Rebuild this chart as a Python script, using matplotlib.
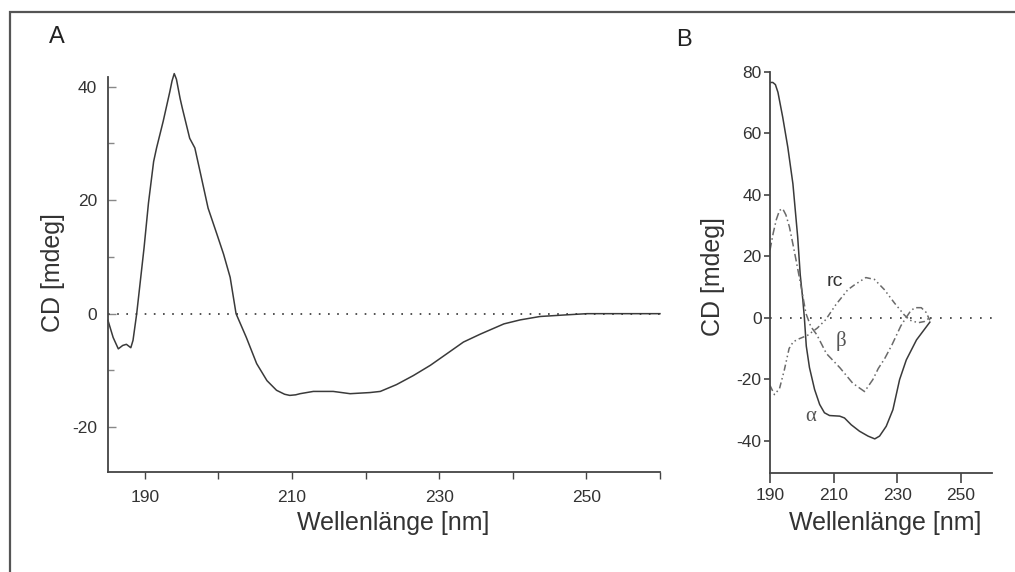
import numpy as np
import matplotlib
matplotlib.use('Agg')
import matplotlib.pyplot as plt
from matplotlib.patches import Rectangle

plt.rcParams['font.family'] = ['Liberation Sans', 'DejaVu Sans']
plt.rcParams['axes.unicode_minus'] = False

# Panel A: CD spectrum of the sample
wl_a = [185.0, 185.7, 186.4, 187.0, 187.5, 188.1, 188.4, 188.9, 189.9, 190.5,
        191.2, 191.6, 192.5, 193.4, 193.7, 194.0, 194.3, 194.8, 195.1, 196.1,
        196.8, 197.5, 198.6, 199.8, 200.7, 201.6, 202.4, 203.8, 205.2, 206.6,
        207.9, 209.0, 209.7, 210.5, 211.1, 212.9, 215.6, 217.9, 220.6, 222.0,
        224.2, 226.5, 228.8, 231.0, 233.3, 235.6, 238.8, 241.0, 243.7, 247.4,
        250.1, 255.0, 260.0]
cd_a = [-1.2, -4.2, -6.2, -5.6, -5.4, -6.0, -4.7, 0.0, 11.6, 19.5,
        26.8, 29.2, 33.9, 39.1, 41.0, 42.3, 41.3, 37.9, 36.2, 30.9,
        29.2, 25.1, 18.6, 14.0, 10.5, 6.4, 0.0, -4.2, -8.8, -11.8,
        -13.5, -14.2, -14.4, -14.3, -14.1, -13.7, -13.7, -14.1, -13.9, -13.7,
        -12.5, -10.9, -9.1, -7.1, -5.0, -3.6, -1.8, -1.1, -0.5, -0.2,
        0.0, 0.0, 0.0]

# Panel B: reference spectra alpha, beta, random coil
wl_alpha = [190.0, 190.9, 191.7, 192.5, 194.0, 195.6, 197.2, 198.7, 199.5, 200.3,
            200.8, 201.4, 202.4, 204.0, 205.6, 207.1, 208.7, 211.9, 213.4, 215.5,
            218.1, 220.8, 222.9, 224.4, 226.5, 228.6, 230.7, 232.8, 236.0, 240.2]
cd_alpha = [76.6, 76.6, 75.9, 73.4, 65.3, 55.5, 43.6, 26.3, 14.0, 6.0,
            0.0, -9.2, -16.2, -23.3, -28.2, -30.9, -31.8, -32.0, -32.6, -34.8,
            -36.9, -38.5, -39.4, -38.5, -35.3, -29.9, -20.1, -13.7, -7.2, -1.4]

wl_beta = [190.0, 191.0, 192.0, 193.0, 194.0, 195.0, 196.1, 197.2, 198.2, 199.8,
           201.3, 202.8, 204.7, 207.7, 212.0, 216.0, 219.7, 222.3, 224.0, 226.0,
           228.3, 231.1, 232.7, 234.0, 235.4, 237.5, 239.0, 240.2]
cd_beta = [22.0, 27.5, 32.0, 35.0, 35.5, 33.5, 29.6, 24.0, 18.7, 10.0,
           1.4, -2.8, -5.5, -11.6, -16.3, -21.3, -24.0, -20.1, -16.5, -13.3,
           -8.8, -2.6, 0.0, 2.0, 3.3, 3.3, 1.8, -0.8]

wl_rc = [190.0, 191.4, 193.0, 194.5, 196.0, 197.3, 199.2, 201.8, 204.9, 207.5,
         210.7, 214.4, 216.5, 220.1, 222.8, 225.9, 229.1, 232.2, 234.0, 236.5,
         238.5, 240.1]
cd_rc = [-22.0, -25.0, -23.0, -17.0, -10.0, -7.8, -6.8, -5.7, -3.3, -0.6,
         4.3, 9.1, 10.7, 13.1, 12.5, 9.2, 4.8, 0.9, -0.8, -1.6,
         -1.2, 0.0]

line_col = '#3a3a3a'
ref_col = '#6a6a6a'
axis_col = '#444444'
text_col = '#333333'

fig = plt.figure(figsize=(10.15, 5.72), dpi=100)

# grey frame around the whole figure (only left/top visible)
fig.patches.append(Rectangle((0.0099, -0.2), 2.0, 1.179, transform=fig.transFigure,
                             fill=False, ec='#555555', lw=1.6))

axA = fig.add_axes([0.1064, 0.1748, 0.5438, 0.6906])
axB = fig.add_axes([0.7586, 0.1731, 0.2187, 0.7010])

# ---- panel A ----
axA.plot(wl_a, cd_a, color=line_col, lw=1.1, clip_on=False)
axA.axhline(0, color=text_col, lw=1.2, ls=(0, (1, 4.5)))
axA.set_xlim(185, 260)
axA.set_ylim(-27.9, 41.7)
axA.set_xticks([190, 210, 230, 250])
axA.set_xticks([200, 220, 240, 260], minor=True)
axA.set_yticks([-20, 0, 20, 40])
axA.set_yticks([-10, 10, 30], minor=True)
axA.tick_params(axis='x', which='both', direction='out', length=5, width=1,
                color=axis_col, labelsize=12.5, labelcolor=text_col, pad=8)
axA.tick_params(axis='y', which='major', direction='in', length=6, width=1,
                color='#888888', labelsize=12.5, labelcolor=text_col, pad=8)
axA.tick_params(axis='y', which='minor', direction='in', length=4, width=1,
                color='#888888')
axA.set_xlabel('Wellenlänge [nm]', fontsize=18, color=text_col)
axA.set_ylabel('CD [mdeg]', fontsize=18, color=text_col)
axA.xaxis.set_label_coords(0.516, -0.129)
axA.xaxis.label.set_va('center')
axA.yaxis.set_label_coords(-0.1, 0.505)
axA.yaxis.label.set_va('center')

# ---- panel B ----
axB.plot(wl_alpha, cd_alpha, color=line_col, lw=1.1)
axB.plot(wl_beta, cd_beta, color=ref_col, lw=1.1, ls=(0, (5, 2, 1, 2)))
axB.plot(wl_rc, cd_rc, color=ref_col, lw=1.1, ls=(0, (4, 2, 1, 2, 1, 2)))
axB.axhline(0, color=text_col, lw=1.2, ls=(0, (1, 5)))
axB.set_xlim(190, 259.7)
axB.set_ylim(-50.5, 80)
axB.set_xticks([190, 210, 230, 250])
axB.set_yticks([-40, -20, 0, 20, 40, 60, 80])
axB.set_yticks([80], minor=True)
axB.tick_params(axis='x', direction='out', length=7, width=1.2,
                color=axis_col, labelsize=12.5, labelcolor=text_col, pad=4)
axB.tick_params(axis='y', which='major', direction='out', length=4, width=1.2,
                color=axis_col, labelsize=12.5, labelcolor=text_col, pad=2)
axB.tick_params(axis='y', which='minor', direction='in', length=6, width=1.2,
                color=axis_col)
axB.set_xlabel('Wellenlänge [nm]', fontsize=18, color=text_col)
axB.set_ylabel('CD [mdeg]', fontsize=18, color=text_col)
axB.xaxis.set_label_coords(0.52, -0.125)
axB.xaxis.label.set_va('center')
axB.yaxis.set_label_coords(-0.255, 0.49)
axB.yaxis.label.set_va('center')

axB.text(210.5, 11.7, 'rc', fontsize=14, color=text_col, ha='center', va='center')
axB.text(212.2, -7.5, 'β', fontsize=15, color='#555555', ha='center', va='center',
         family=['Liberation Serif', 'DejaVu Serif'])
axB.text(202.7, -32.2, 'α', fontsize=15, color='#555555', ha='center', va='center',
         family=['Liberation Serif', 'DejaVu Serif'])

for ax in (axA, axB):
    for side in ('top', 'right'):
        ax.spines[side].set_visible(False)
    for side in ('left', 'bottom'):
        ax.spines[side].set_color(axis_col)
        ax.spines[side].set_linewidth(1.3)

fig.text(0.0562, 0.9353, 'A', fontsize=17, color='#222222', ha='center', va='center')
fig.text(0.674, 0.9306, 'B', fontsize=17, color='#222222', ha='center', va='center')

fig.savefig('out.png', dpi=100)
